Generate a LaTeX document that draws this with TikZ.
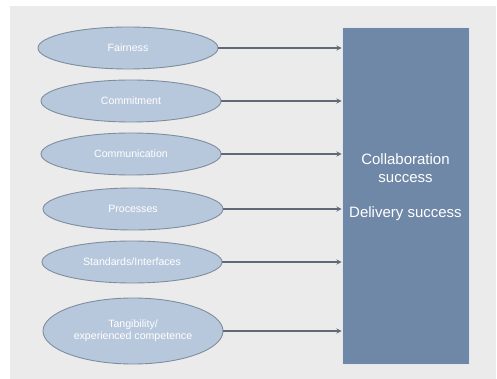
\documentclass[tikz,border=0pt]{standalone}
\usepackage{fontspec}
\setmainfont{Liberation Sans}
\usetikzlibrary{shapes.geometric}
\definecolor{panel}{HTML}{EBEBEB}
\definecolor{ovalfill}{HTML}{B8C8DC}
\definecolor{ovaldraw}{HTML}{7F8D9E}
\definecolor{boxfill}{HTML}{7088A8}
\definecolor{arrowgray}{HTML}{5F6A76}
\begin{document}
\begin{tikzpicture}[x=1pt, y=-1pt, line join=round, >=stealth,
	factor/.style={ellipse, draw=ovaldraw, fill=ovalfill, line width=.9pt, minimum width=180pt, minimum height=42pt, inner sep=0pt, text=white, font=\fontsize{10.6}{12.5}\selectfont, align=center},
	link/.style={->, draw=arrowgray, line width=1.3pt}]
	\useasboundingbox (0,0) rectangle (497,379);
	\fill[panel] (10,6) rectangle (496,379);
	% result block on the right
	\node[draw=white!80!boxfill, fill=boxfill, line width=.8pt, minimum width=127pt, minimum height=337pt, inner sep=0pt] (res) at (405.5,195.5) {};
	\node[text=white, font=\fontsize{15}{18}\selectfont, align=center] (restext) at (405.5,187) {Collaboration\\success\\[17pt]Delivery success};
	% influencing factors
	\node[factor] (fair) at (128,48) {Fairness};
	\node[factor] (commit) at (131,101) {Commitment};
	\node[factor] (comm) at (131,154) {Communication};
	\node[factor] (proc) at (133,209) {Processes};
	\node[factor] (std) at (132,262) {Standards/Interfaces};
	\node[factor, minimum height=66pt] (tang) at (133,331) {Tangibility/\\experienced competence};
	\foreach \n in {fair,commit,comm,proc,std,tang}
		\draw[link] (\n.east) -- (\n.east -| res.west);
\end{tikzpicture}
\end{document}
